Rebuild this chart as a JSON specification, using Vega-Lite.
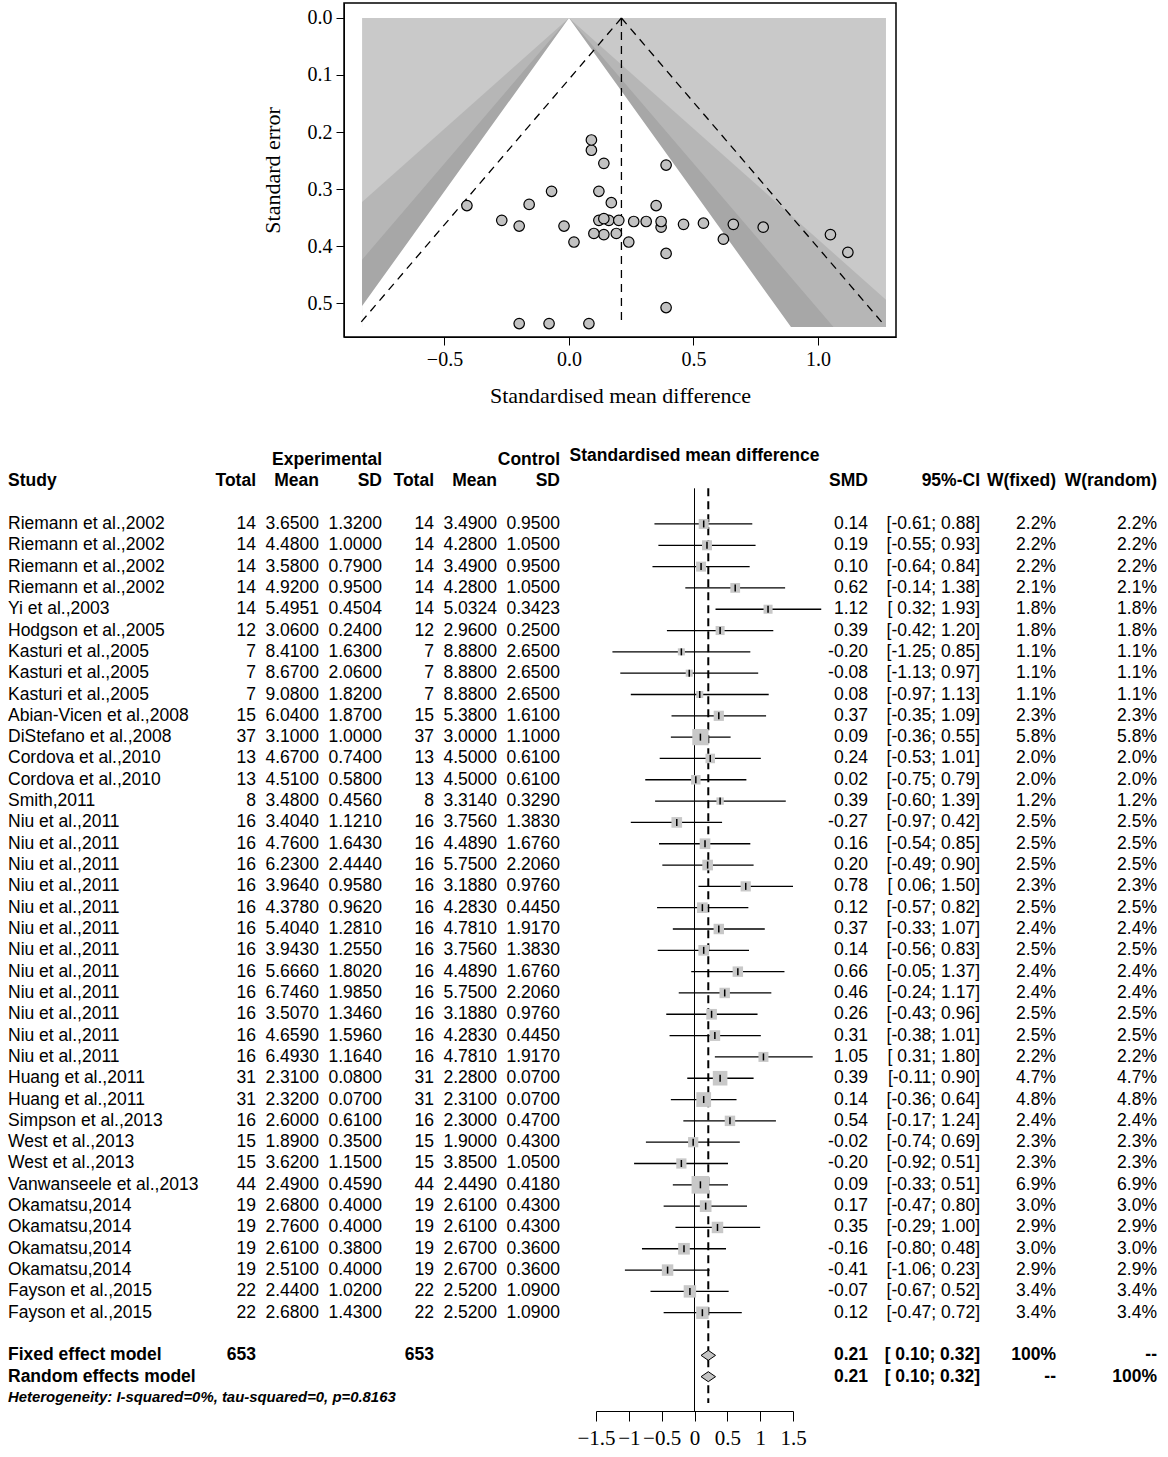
{
"$schema": "https://vega.github.io/schema/vega-lite/v6.json",
"padding": {"left": 8, "top": 2, "right": 0, "bottom": 0},
"background": "white",
"config": {
  "locale": {"number": {"decimal": ".", "thousands": ",", "grouping": [3], "currency": ["$", ""], "minus": "-"}},
  "font": "Liberation Sans",
  "view": {"stroke": null}
},
"datasets": {
"studies": [
{"row":"s01","study":"Riemann et al.,2002","ne":14,"me":3.65,"sde":1.32,"nc":14,"mc":3.49,"sdc":0.95,"smd":0.14,"lo":-0.61,"hi":0.88,"ci":"[-0.61; 0.88]","w":0.022,"se":0.380},
{"row":"s02","study":"Riemann et al.,2002","ne":14,"me":4.48,"sde":1.0,"nc":14,"mc":4.28,"sdc":1.05,"smd":0.19,"lo":-0.55,"hi":0.93,"ci":"[-0.55; 0.93]","w":0.022,"se":0.378},
{"row":"s03","study":"Riemann et al.,2002","ne":14,"me":3.58,"sde":0.79,"nc":14,"mc":3.49,"sdc":0.95,"smd":0.10,"lo":-0.64,"hi":0.84,"ci":"[-0.64; 0.84]","w":0.022,"se":0.378},
{"row":"s04","study":"Riemann et al.,2002","ne":14,"me":4.92,"sde":0.95,"nc":14,"mc":4.28,"sdc":1.05,"smd":0.62,"lo":-0.14,"hi":1.38,"ci":"[-0.14; 1.38]","w":0.021,"se":0.388},
{"row":"s05","study":"Yi et al.,2003","ne":14,"me":5.4951,"sde":0.4504,"nc":14,"mc":5.0324,"sdc":0.3423,"smd":1.12,"lo":0.32,"hi":1.93,"ci":"[ 0.32; 1.93]","w":0.018,"se":0.411},
{"row":"s06","study":"Hodgson et al.,2005","ne":12,"me":3.06,"sde":0.24,"nc":12,"mc":2.96,"sdc":0.25,"smd":0.39,"lo":-0.42,"hi":1.20,"ci":"[-0.42; 1.20]","w":0.018,"se":0.413},
{"row":"s07","study":"Kasturi et al.,2005","ne":7,"me":8.41,"sde":1.63,"nc":7,"mc":8.88,"sdc":2.65,"smd":-0.20,"lo":-1.25,"hi":0.85,"ci":"[-1.25; 0.85]","w":0.011,"se":0.536},
{"row":"s08","study":"Kasturi et al.,2005","ne":7,"me":8.67,"sde":2.06,"nc":7,"mc":8.88,"sdc":2.65,"smd":-0.08,"lo":-1.13,"hi":0.97,"ci":"[-1.13; 0.97]","w":0.011,"se":0.536},
{"row":"s09","study":"Kasturi et al.,2005","ne":7,"me":9.08,"sde":1.82,"nc":7,"mc":8.88,"sdc":2.65,"smd":0.08,"lo":-0.97,"hi":1.13,"ci":"[-0.97; 1.13]","w":0.011,"se":0.536},
{"row":"s10","study":"Abian-Vicen et al.,2008","ne":15,"me":6.04,"sde":1.87,"nc":15,"mc":5.38,"sdc":1.61,"smd":0.37,"lo":-0.35,"hi":1.09,"ci":"[-0.35; 1.09]","w":0.023,"se":0.367},
{"row":"s11","study":"DiStefano et al.,2008","ne":37,"me":3.1,"sde":1.0,"nc":37,"mc":3.0,"sdc":1.1,"smd":0.09,"lo":-0.36,"hi":0.55,"ci":"[-0.36; 0.55]","w":0.058,"se":0.232},
{"row":"s12","study":"Cordova et al.,2010","ne":13,"me":4.67,"sde":0.74,"nc":13,"mc":4.5,"sdc":0.61,"smd":0.24,"lo":-0.53,"hi":1.01,"ci":"[-0.53; 1.01]","w":0.020,"se":0.393},
{"row":"s13","study":"Cordova et al.,2010","ne":13,"me":4.51,"sde":0.58,"nc":13,"mc":4.5,"sdc":0.61,"smd":0.02,"lo":-0.75,"hi":0.79,"ci":"[-0.75; 0.79]","w":0.020,"se":0.393},
{"row":"s14","study":"Smith,2011","ne":8,"me":3.48,"sde":0.456,"nc":8,"mc":3.314,"sdc":0.329,"smd":0.39,"lo":-0.60,"hi":1.39,"ci":"[-0.60; 1.39]","w":0.012,"se":0.508},
{"row":"s15","study":"Niu et al.,2011","ne":16,"me":3.404,"sde":1.121,"nc":16,"mc":3.756,"sdc":1.383,"smd":-0.27,"lo":-0.97,"hi":0.42,"ci":"[-0.97; 0.42]","w":0.025,"se":0.355},
{"row":"s16","study":"Niu et al.,2011","ne":16,"me":4.76,"sde":1.643,"nc":16,"mc":4.489,"sdc":1.676,"smd":0.16,"lo":-0.54,"hi":0.85,"ci":"[-0.54; 0.85]","w":0.025,"se":0.355},
{"row":"s17","study":"Niu et al.,2011","ne":16,"me":6.23,"sde":2.444,"nc":16,"mc":5.75,"sdc":2.206,"smd":0.20,"lo":-0.49,"hi":0.90,"ci":"[-0.49; 0.90]","w":0.025,"se":0.355},
{"row":"s18","study":"Niu et al.,2011","ne":16,"me":3.964,"sde":0.958,"nc":16,"mc":3.188,"sdc":0.976,"smd":0.78,"lo":0.06,"hi":1.50,"ci":"[ 0.06; 1.50]","w":0.023,"se":0.367},
{"row":"s19","study":"Niu et al.,2011","ne":16,"me":4.378,"sde":0.962,"nc":16,"mc":4.283,"sdc":0.445,"smd":0.12,"lo":-0.57,"hi":0.82,"ci":"[-0.57; 0.82]","w":0.025,"se":0.355},
{"row":"s20","study":"Niu et al.,2011","ne":16,"me":5.404,"sde":1.281,"nc":16,"mc":4.781,"sdc":1.917,"smd":0.37,"lo":-0.33,"hi":1.07,"ci":"[-0.33; 1.07]","w":0.024,"se":0.357},
{"row":"s21","study":"Niu et al.,2011","ne":16,"me":3.943,"sde":1.255,"nc":16,"mc":3.756,"sdc":1.383,"smd":0.14,"lo":-0.56,"hi":0.83,"ci":"[-0.56; 0.83]","w":0.025,"se":0.352},
{"row":"s22","study":"Niu et al.,2011","ne":16,"me":5.666,"sde":1.802,"nc":16,"mc":4.489,"sdc":1.676,"smd":0.66,"lo":-0.05,"hi":1.37,"ci":"[-0.05; 1.37]","w":0.024,"se":0.362},
{"row":"s23","study":"Niu et al.,2011","ne":16,"me":6.746,"sde":1.985,"nc":16,"mc":5.75,"sdc":2.206,"smd":0.46,"lo":-0.24,"hi":1.17,"ci":"[-0.24; 1.17]","w":0.024,"se":0.362},
{"row":"s24","study":"Niu et al.,2011","ne":16,"me":3.507,"sde":1.346,"nc":16,"mc":3.188,"sdc":0.976,"smd":0.26,"lo":-0.43,"hi":0.96,"ci":"[-0.43; 0.96]","w":0.025,"se":0.357},
{"row":"s25","study":"Niu et al.,2011","ne":16,"me":4.659,"sde":1.596,"nc":16,"mc":4.283,"sdc":0.445,"smd":0.31,"lo":-0.38,"hi":1.01,"ci":"[-0.38; 1.01]","w":0.025,"se":0.357},
{"row":"s26","study":"Niu et al.,2011","ne":16,"me":6.493,"sde":1.164,"nc":16,"mc":4.781,"sdc":1.917,"smd":1.05,"lo":0.31,"hi":1.80,"ci":"[ 0.31; 1.80]","w":0.022,"se":0.380},
{"row":"s27","study":"Huang et al.,2011","ne":31,"me":2.31,"sde":0.08,"nc":31,"mc":2.28,"sdc":0.07,"smd":0.39,"lo":-0.11,"hi":0.90,"ci":"[-0.11; 0.90]","w":0.047,"se":0.258},
{"row":"s28","study":"Huang et al.,2011","ne":31,"me":2.32,"sde":0.07,"nc":31,"mc":2.31,"sdc":0.07,"smd":0.14,"lo":-0.36,"hi":0.64,"ci":"[-0.36; 0.64]","w":0.048,"se":0.255},
{"row":"s29","study":"Simpson et al.,2013","ne":16,"me":2.6,"sde":0.61,"nc":16,"mc":2.3,"sdc":0.47,"smd":0.54,"lo":-0.17,"hi":1.24,"ci":"[-0.17; 1.24]","w":0.024,"se":0.360},
{"row":"s30","study":"West et al.,2013","ne":15,"me":1.89,"sde":0.35,"nc":15,"mc":1.9,"sdc":0.43,"smd":-0.02,"lo":-0.74,"hi":0.69,"ci":"[-0.74; 0.69]","w":0.023,"se":0.365},
{"row":"s31","study":"West et al.,2013","ne":15,"me":3.62,"sde":1.15,"nc":15,"mc":3.85,"sdc":1.05,"smd":-0.20,"lo":-0.92,"hi":0.51,"ci":"[-0.92; 0.51]","w":0.023,"se":0.365},
{"row":"s32","study":"Vanwanseele et al.,2013","ne":44,"me":2.49,"sde":0.459,"nc":44,"mc":2.449,"sdc":0.418,"smd":0.09,"lo":-0.33,"hi":0.51,"ci":"[-0.33; 0.51]","w":0.069,"se":0.214},
{"row":"s33","study":"Okamatsu,2014","ne":19,"me":2.68,"sde":0.4,"nc":19,"mc":2.61,"sdc":0.43,"smd":0.17,"lo":-0.47,"hi":0.80,"ci":"[-0.47; 0.80]","w":0.030,"se":0.324},
{"row":"s34","study":"Okamatsu,2014","ne":19,"me":2.76,"sde":0.4,"nc":19,"mc":2.61,"sdc":0.43,"smd":0.35,"lo":-0.29,"hi":1.00,"ci":"[-0.29; 1.00]","w":0.029,"se":0.329},
{"row":"s35","study":"Okamatsu,2014","ne":19,"me":2.61,"sde":0.38,"nc":19,"mc":2.67,"sdc":0.36,"smd":-0.16,"lo":-0.80,"hi":0.48,"ci":"[-0.80; 0.48]","w":0.030,"se":0.327},
{"row":"s36","study":"Okamatsu,2014","ne":19,"me":2.51,"sde":0.4,"nc":19,"mc":2.67,"sdc":0.36,"smd":-0.41,"lo":-1.06,"hi":0.23,"ci":"[-1.06; 0.23]","w":0.029,"se":0.329},
{"row":"s37","study":"Fayson et al.,2015","ne":22,"me":2.44,"sde":1.02,"nc":22,"mc":2.52,"sdc":1.09,"smd":-0.07,"lo":-0.67,"hi":0.52,"ci":"[-0.67; 0.52]","w":0.034,"se":0.304},
{"row":"s38","study":"Fayson et al.,2015","ne":22,"me":2.68,"sde":1.43,"nc":22,"mc":2.52,"sdc":1.09,"smd":0.12,"lo":-0.47,"hi":0.72,"ci":"[-0.47; 0.72]","w":0.034,"se":0.304}
],
"contour": [
{"band":"outer","se":0,"lo":-0.831,"hi":1.273},
{"band":"outer","se":0.542,"lo":-0.831,"hi":1.273},
{"band":"mid","se":0,"lo":0,"hi":0},
{"band":"mid","se":0.3226,"lo":-0.831,"hi":0.831},
{"band":"mid","se":0.4942,"lo":-0.831,"hi":1.273},
{"band":"mid","se":0.542,"lo":-0.831,"hi":1.273},
{"band":"dark","se":0,"lo":0,"hi":0},
{"band":"dark","se":0.424,"lo":-0.831,"hi":0.831},
{"band":"dark","se":0.542,"lo":-0.831,"hi":1.0623},
{"band":"white","se":0,"lo":0,"hi":0},
{"band":"white","se":0.5052,"lo":-0.831,"hi":0.831},
{"band":"white","se":0.542,"lo":-0.831,"hi":0.8916}
],
"flines": [
{"line":"l","se":0,"x":0.2106},{"line":"l","se":0.536,"x":-0.84},
{"line":"r","se":0,"x":0.2106},{"line":"r","se":0.536,"x":1.261},
{"line":"c","se":0,"x":0.2106},{"line":"c","se":0.536,"x":0.2106}
],
"headers": [
{"row":"hdr1","col":3,"label":"Experimental"},
{"row":"hdr1","col":6,"label":"Control"},
{"row":"hdr2","col":0,"label":"Study"},
{"row":"hdr2","col":1,"label":"Total"},
{"row":"hdr2","col":2,"label":"Mean"},
{"row":"hdr2","col":3,"label":"SD"},
{"row":"hdr2","col":4,"label":"Total"},
{"row":"hdr2","col":5,"label":"Mean"},
{"row":"hdr2","col":6,"label":"SD"},
{"row":"hdr2","col":7,"label":"SMD"},
{"row":"hdr2","col":8,"label":"95%-CI"},
{"row":"hdr2","col":9,"label":"W(fixed)"},
{"row":"hdr2","col":10,"label":"W(random)"},
{"row":"fixed","col":0,"label":"Fixed effect model"},
{"row":"fixed","col":1,"label":"653"},
{"row":"fixed","col":4,"label":"653"},
{"row":"fixed","col":7,"label":"0.21"},
{"row":"fixed","col":8,"label":"[ 0.10; 0.32]"},
{"row":"fixed","col":9,"label":"100%"},
{"row":"fixed","col":10,"label":"--"},
{"row":"random","col":0,"label":"Random effects model"},
{"row":"random","col":7,"label":"0.21"},
{"row":"random","col":8,"label":"[ 0.10; 0.32]"},
{"row":"random","col":9,"label":"--"},
{"row":"random","col":10,"label":"100%"}
],
"summary": [
{"row":"fixed","smd":0.21,"lo":0.10,"hi":0.32},
{"row":"random","smd":0.21,"lo":0.10,"hi":0.32}
]
},
"spacing": 110,
"bounds": "flush",
"vconcat": [
{
  "width": 552, "height": 334,
  "view": {"stroke": "black", "strokeWidth": 1.5},
  "layer": [
    {"data": {"name": "contour"}, "transform": [{"filter": "datum.band == 'outer'"}],
     "mark": {"type": "area", "orient": "horizontal", "color": "#c9c9c9", "opacity": 1},
     "encoding": {
       "y": {"field": "se", "type": "quantitative", "scale": {"domain": [-0.0263, 0.5596], "reverse": true, "nice": false, "zero": false},
             "axis": {"values": [0, 0.1, 0.2, 0.3, 0.4, 0.5], "format": ".1f", "title": "Standard error", "grid": false, "labelFont": "Liberation Serif", "labelFontSize": 20, "labelColor": "black", "titleFont": "Liberation Serif", "titleFontSize": 22, "titleFontWeight": "normal", "titleColor": "black", "tickSize": 8, "tickColor": "black", "domainColor": "black", "labelPadding": 4, "titlePadding": 23}},
       "x": {"field": "lo", "type": "quantitative", "scale": {"domain": [-0.9036, 1.3133], "nice": false, "zero": false},
             "axis": {"values": [-0.5, 0, 0.5, 1], "format": ".1f", "labelExpr": "replace(datum.label, '-', '−')", "title": "Standardised mean difference", "grid": false, "labelFont": "Liberation Serif", "labelFontSize": 20, "labelColor": "black", "titleFont": "Liberation Serif", "titleFontSize": 22, "titleFontWeight": "normal", "titleColor": "black", "tickSize": 8, "tickColor": "black", "domainColor": "black", "labelPadding": 4, "titlePadding": 16}},
       "x2": {"field": "hi"}
     }},
    {"data": {"name": "contour"}, "transform": [{"filter": "datum.band == 'mid'"}],
     "mark": {"type": "area", "orient": "horizontal", "color": "#b6b6b6", "opacity": 1},
     "encoding": {"y": {"field": "se", "type": "quantitative"}, "x": {"field": "lo", "type": "quantitative"}, "x2": {"field": "hi"}}},
    {"data": {"name": "contour"}, "transform": [{"filter": "datum.band == 'dark'"}],
     "mark": {"type": "area", "orient": "horizontal", "color": "#a7a7a7", "opacity": 1},
     "encoding": {"y": {"field": "se", "type": "quantitative"}, "x": {"field": "lo", "type": "quantitative"}, "x2": {"field": "hi"}}},
    {"data": {"name": "contour"}, "transform": [{"filter": "datum.band == 'white'"}],
     "mark": {"type": "area", "orient": "horizontal", "color": "white", "opacity": 1},
     "encoding": {"y": {"field": "se", "type": "quantitative"}, "x": {"field": "lo", "type": "quantitative"}, "x2": {"field": "hi"}}},
    {"data": {"name": "flines"},
     "mark": {"type": "line", "color": "black", "strokeWidth": 1.3, "strokeDash": [8, 6]},
     "encoding": {"y": {"field": "se", "type": "quantitative"}, "x": {"field": "x", "type": "quantitative"}, "detail": {"field": "line"}, "order": {"field": "se"}}},
    {"data": {"name": "studies"},
     "mark": {"type": "circle", "size": 110, "fill": "#c2c2c2", "stroke": "black", "strokeWidth": 1.2, "opacity": 1},
     "encoding": {"y": {"field": "se", "type": "quantitative"}, "x": {"field": "smd", "type": "quantitative"}}}
  ]
},
{
  "width": 824, "height": 964,
  "resolve": {"scale": {"x": "independent"}, "axis": {"x": "independent"}},
  "layer": [
    {
      "layer": [
        {"data": {"name": "headers"}, "transform": [{"filter": "datum.col == 0"}],
         "mark": {"type": "text", "align": "left", "baseline": "middle", "fontSize": 17.5, "fontWeight": "bold", "color": "black"},
         "encoding": {"x": {"field": "col", "type": "quantitative", "scale": {"domain": [0,1,2,3,4,5,6,7,8,9,10], "range": [-336,-88,-25,38,90,153,216,524,636,712,813], "nice": false, "zero": false}, "axis": null},
                      "y": {"field": "row", "type": "ordinal", "scale": {"type": "point", "padding": 0.61, "domain": ["hdr1","hdr2","gap1","s01","s02","s03","s04","s05","s06","s07","s08","s09","s10","s11","s12","s13","s14","s15","s16","s17","s18","s19","s20","s21","s22","s23","s24","s25","s26","s27","s28","s29","s30","s31","s32","s33","s34","s35","s36","s37","s38","gap2","fixed","random","het"]}, "axis": null},
                      "text": {"field": "label"}}},
        {"data": {"name": "headers"}, "transform": [{"filter": "datum.col > 0"}],
         "mark": {"type": "text", "align": "right", "baseline": "middle", "fontSize": 17.5, "fontWeight": "bold", "color": "black"},
         "encoding": {"x": {"field": "col", "type": "quantitative"}, "y": {"field": "row", "type": "ordinal"}, "text": {"field": "label"}}},
        {"data": {"values": [{"row": "het", "label": "Heterogeneity: I-squared=0%, tau-squared=0, p=0.8163"}]},
         "mark": {"type": "text", "align": "left", "baseline": "middle", "fontSize": 14.9, "fontWeight": "bold", "fontStyle": "italic", "color": "black"},
         "encoding": {"x": {"datum": 0, "type": "quantitative"}, "y": {"field": "row", "type": "ordinal"}, "text": {"field": "label"}}},
        {"data": {"name": "studies"}, "mark": {"type": "text", "align": "left", "baseline": "middle", "fontSize": 17.5, "color": "black"},
         "encoding": {"x": {"datum": 0, "type": "quantitative"}, "y": {"field": "row", "type": "ordinal"}, "text": {"field": "study"}}},
        {"data": {"name": "studies"}, "mark": {"type": "text", "align": "right", "baseline": "middle", "fontSize": 17.5, "color": "black"},
         "encoding": {"x": {"datum": 1, "type": "quantitative"}, "y": {"field": "row", "type": "ordinal"}, "text": {"field": "ne", "type": "quantitative", "format": "d"}}},
        {"data": {"name": "studies"}, "mark": {"type": "text", "align": "right", "baseline": "middle", "fontSize": 17.5, "color": "black"},
         "encoding": {"x": {"datum": 2, "type": "quantitative"}, "y": {"field": "row", "type": "ordinal"}, "text": {"field": "me", "type": "quantitative", "format": ".4f"}}},
        {"data": {"name": "studies"}, "mark": {"type": "text", "align": "right", "baseline": "middle", "fontSize": 17.5, "color": "black"},
         "encoding": {"x": {"datum": 3, "type": "quantitative"}, "y": {"field": "row", "type": "ordinal"}, "text": {"field": "sde", "type": "quantitative", "format": ".4f"}}},
        {"data": {"name": "studies"}, "mark": {"type": "text", "align": "right", "baseline": "middle", "fontSize": 17.5, "color": "black"},
         "encoding": {"x": {"datum": 4, "type": "quantitative"}, "y": {"field": "row", "type": "ordinal"}, "text": {"field": "nc", "type": "quantitative", "format": "d"}}},
        {"data": {"name": "studies"}, "mark": {"type": "text", "align": "right", "baseline": "middle", "fontSize": 17.5, "color": "black"},
         "encoding": {"x": {"datum": 5, "type": "quantitative"}, "y": {"field": "row", "type": "ordinal"}, "text": {"field": "mc", "type": "quantitative", "format": ".4f"}}},
        {"data": {"name": "studies"}, "mark": {"type": "text", "align": "right", "baseline": "middle", "fontSize": 17.5, "color": "black"},
         "encoding": {"x": {"datum": 6, "type": "quantitative"}, "y": {"field": "row", "type": "ordinal"}, "text": {"field": "sdc", "type": "quantitative", "format": ".4f"}}},
        {"data": {"name": "studies"}, "mark": {"type": "text", "align": "right", "baseline": "middle", "fontSize": 17.5, "color": "black"},
         "encoding": {"x": {"datum": 7, "type": "quantitative"}, "y": {"field": "row", "type": "ordinal"}, "text": {"field": "smd", "type": "quantitative", "format": ".2f"}}},
        {"data": {"name": "studies"}, "mark": {"type": "text", "align": "right", "baseline": "middle", "fontSize": 17.5, "color": "black"},
         "encoding": {"x": {"datum": 8, "type": "quantitative"}, "y": {"field": "row", "type": "ordinal"}, "text": {"field": "ci"}}},
        {"data": {"name": "studies"}, "mark": {"type": "text", "align": "right", "baseline": "middle", "fontSize": 17.5, "color": "black"},
         "encoding": {"x": {"datum": 9, "type": "quantitative"}, "y": {"field": "row", "type": "ordinal"}, "text": {"field": "w", "type": "quantitative", "format": ".1%"}}},
        {"data": {"name": "studies"}, "mark": {"type": "text", "align": "right", "baseline": "middle", "fontSize": 17.5, "color": "black"},
         "encoding": {"x": {"datum": 10, "type": "quantitative"}, "y": {"field": "row", "type": "ordinal"}, "text": {"field": "w", "type": "quantitative", "format": ".1%"}}}
      ]
    },
    {
      "layer": [
        {"data": {"values": [{"row": "hdr1", "label": "Standardised mean difference"}]},
         "mark": {"type": "text", "align": "center", "baseline": "middle", "fontSize": 17.5, "fontWeight": "bold", "color": "black", "dy": -4},
         "encoding": {"x": {"datum": 0, "type": "quantitative", "scale": {"domain": [-1.5, 1.5], "range": [252, 449], "nice": false, "zero": false},
                            "axis": {"orient": "bottom", "values": [-1.5, -1, -0.5, 0, 0.5, 1, 1.5], "format": "~g", "labelExpr": "replace(datum.label, '-', '−')", "title": null, "grid": false, "labelFont": "Liberation Serif", "labelFontSize": 21, "labelColor": "black", "tickSize": 10, "tickColor": "black", "domainColor": "black", "labelPadding": 6, "labelOverlap": false, "labelBound": false, "labelFlush": false}},
                      "y": {"field": "row", "type": "ordinal"}, "text": {"field": "label"}}},
        {"data": {"values": [{"ref": "zero"}]},
         "mark": {"type": "rule", "color": "black", "strokeWidth": 1, "yOffset": 7, "y2Offset": 13},
         "encoding": {"x": {"datum": 0, "type": "quantitative"}, "y": {"datum": "hdr2", "type": "ordinal"}, "y2": {"datum": "het"}}},
        {"data": {"values": [{"ref": "fixed"}]},
         "mark": {"type": "rule", "color": "black", "strokeWidth": 2, "strokeDash": [8, 5], "yOffset": 7, "y2Offset": 5},
         "encoding": {"x": {"datum": 0.21, "type": "quantitative"}, "y": {"datum": "hdr2", "type": "ordinal"}, "y2": {"datum": "het"}}},
        {"data": {"name": "studies"},
         "mark": {"type": "rule", "color": "black", "strokeWidth": 1.3},
         "encoding": {"x": {"field": "lo", "type": "quantitative"}, "x2": {"field": "hi"}, "y": {"field": "row", "type": "ordinal"}}},
        {"data": {"name": "studies"},
         "mark": {"type": "point", "shape": "square", "filled": true, "color": "#c8c8c8", "opacity": 1},
         "encoding": {"x": {"field": "smd", "type": "quantitative"}, "y": {"field": "row", "type": "ordinal"},
                      "size": {"field": "w", "type": "quantitative", "scale": {"domain": [0, 0.069], "range": [0, 313], "zero": true}, "legend": null}}},
        {"data": {"name": "studies"},
         "mark": {"type": "tick", "orient": "vertical", "size": 7, "thickness": 1.5, "color": "black", "opacity": 1},
         "encoding": {"x": {"field": "smd", "type": "quantitative"}, "y": {"field": "row", "type": "ordinal"}}},
        {"data": {"name": "summary"},
         "mark": {"type": "point", "shape": "M-1,0L0,-0.69L1,0L0,0.69Z", "filled": true, "fill": "#c4c4c4", "stroke": "black", "strokeWidth": 1, "size": 210, "opacity": 1},
         "encoding": {"x": {"field": "smd", "type": "quantitative"}, "y": {"field": "row", "type": "ordinal"}}}
      ]
    }
  ]
}
]
}
